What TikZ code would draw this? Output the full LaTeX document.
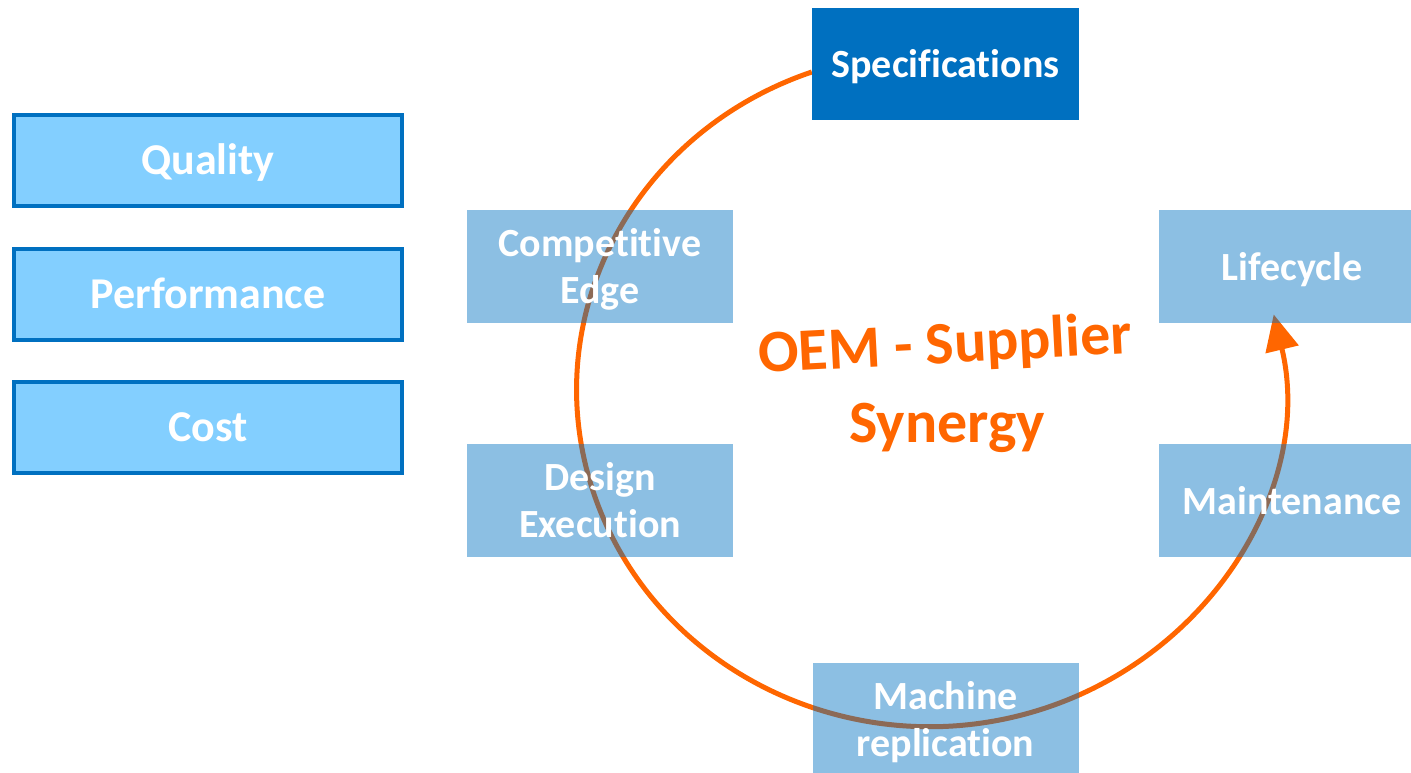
\documentclass[tikz,border=0pt]{standalone}
\usepackage{fontspec}
\setmainfont{Carlito}[Ligatures=NoCommon]
\usetikzlibrary{arrows.meta,backgrounds}
\definecolor{oemblue}{HTML}{0070C0}
\definecolor{lightbox}{HTML}{83CFFF}
\definecolor{oemorange}{HTML}{FF6600}
\begin{document}
\begin{tikzpicture}[x=1pt,y=1pt,
  lbox/.style={draw=oemblue, line width=4pt, fill=lightbox, minimum width=388pt, minimum height=91pt,
    text=white, font=\bfseries\fontsize{44}{52}\selectfont, inner sep=0pt, text height=29pt, text depth=0pt},
  tbox/.style={fill=oemblue, fill opacity=0.45, text opacity=1, text=white, minimum width=266pt,
    minimum height=113pt, align=center, inner sep=0pt, font=\bfseries\fontsize{40}{47}\selectfont,
    text height=27pt, text depth=0pt},
  twoline/.style={text height=74pt, text depth=0pt},
  specbox/.style={fill=oemblue, text=white, minimum width=267pt, minimum height=112pt, inner sep=0pt,
    font=\bfseries\fontsize{40}{47}\selectfont, text height=27pt, text depth=0pt},
  oemtext/.style={text=oemorange, font=\bfseries\fontsize{60}{72}\selectfont, inner sep=0pt},
  cyclearrow/.style={draw=oemorange, line width=5pt, -{Triangle[length=36pt,width=33pt]}}
]
\clip (0,0) rectangle (1411,-773);
% left boxes
\node[lbox] (quality) at (208,-160.5) {Quality};
\node[lbox] (performance) at (208,-294) {Performance};
\node[lbox] (cost) at (208,-427) {Cost};
% cycle boxes
\node[specbox] (spec) at (945.5,-64) {Specifications};
\node[tbox, twoline] (edge) at (600,-266.5) {Competitive\\Edge};
\node[tbox, twoline] (design) at (600,-500.5) {Design\\Execution};
\node[tbox] (life) at (1292,-266.5) {Lifecycle};
\node[tbox] (maint) at (1292,-500.5) {Maintenance};
\node[tbox, twoline] (machine) at (945.5,-719.5) {Machine\\replication};
% center text
\node[oemtext, anchor=base, rotate=3] (oem1) at (946,-363) {OEM - Supplier};
\node[oemtext, anchor=base] (oem2) at (947,-442) {Synergy};
% cycle arc
\begin{scope}[on background layer]
\draw[cyclearrow] ([yshift=-8pt]spec.west) arc[start angle=109.5, end angle=372.9, x radius=353, y radius=337];
\end{scope}
\end{tikzpicture}
\end{document}
